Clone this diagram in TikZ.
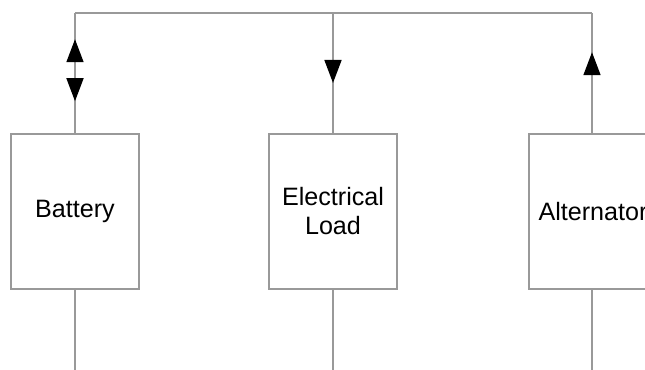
\documentclass[tikz,border=0pt]{standalone}
\usepackage{fontspec}
\setmainfont{Liberation Sans}
\usetikzlibrary{arrows.meta, decorations.markings}

\begin{document}
\begin{tikzpicture}[
  unit/.style={rectangle, draw=gray!80, line width=0.9pt, minimum width=2.56cm, minimum height=3.1cm, align=center, font=\fontsize{14.3}{16.5}\selectfont},
  wire/.style={draw=gray!80, line width=0.9pt},
  flow/.style={postaction={decorate, decoration={markings, mark=at position #1 with {\arrow[black]{Triangle[length=0.46cm, width=0.34cm]}}}}},
  backflow/.style={postaction={decorate, decoration={markings, mark=at position #1 with {\arrowreversed[black]{Triangle[length=0.46cm, width=0.34cm]}}}}}
]
  \useasboundingbox (0,0) rectangle (12.9,-7.4);

  \node[unit] (battery) at (1.5,-4.23) {Battery};
  \node[unit] (load) at (6.66,-4.23) {Electrical\\Load};
  \node[unit] (alternator) at (11.86,-4.23) {Alternator};

  % bus and ends
  \coordinate (bt) at (1.5,-0.26);
  \coordinate (lt) at (6.66,-0.26);
  \coordinate (at) at (11.84,-0.26);
  \coordinate (bb) at (1.5,-7.4);
  \coordinate (lb) at (6.66,-7.4);
  \coordinate (ab) at (11.84,-7.4);

  \draw[wire] (bt) -- (lt) -- (at);
  \draw[wire, flow=1.88cm, backflow=0.64cm] (battery.north) -- (bt);
  \draw[wire, flow=1.4cm] (lt) -- (load.north);
  \draw[wire, flow=1.62cm] (alternator.north -| at) -- (at);

  \draw[wire] (battery.south) -- (bb);
  \draw[wire] (load.south) -- (lb);
  \draw[wire] (alternator.south -| ab) -- (ab);
\end{tikzpicture}
\end{document}
